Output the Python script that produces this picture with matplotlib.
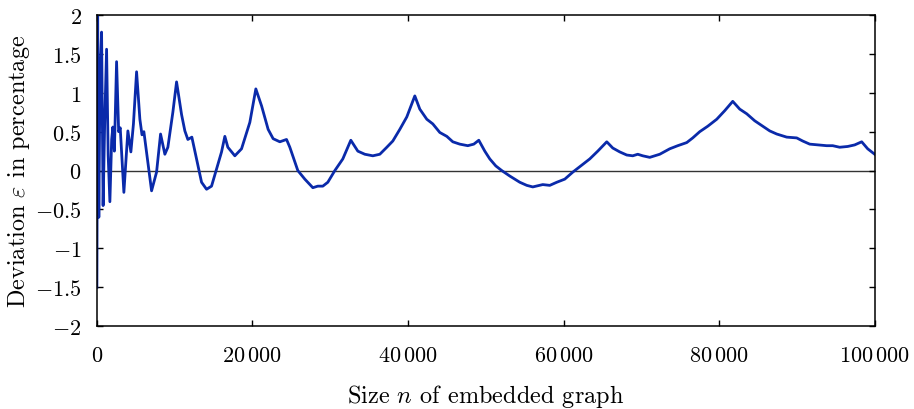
import matplotlib
matplotlib.use("Agg")
import matplotlib.pyplot as plt
import numpy as np

plt.rcParams['font.family'] = ['cmr10', 'DejaVu Serif']
plt.rcParams['mathtext.fontset'] = 'cm'
plt.rcParams['axes.unicode_minus'] = False

# courbe : taille n du graphe, deviation en %
n_vals = [0, 100, 250, 400, 604, 800, 1000, 1247, 1450, 1671, 1900, 2057,
          2250, 2532, 2800, 3000, 3470, 3985, 4370, 4700, 5103, 5527,
          5800, 6041, 6555, 7031, 7673, 8187, 8740, 9126, 9768, 10244, 10887,
          11311, 11697, 12210, 12815, 13457, 14100, 14742, 15385, 16027,
          16452, 16837, 17737, 18598, 19665, 20436, 21178, 22017, 22660,
          23521, 24382, 24806, 25835, 26735, 27763, 28405, 29049, 29690,
          30591, 31618, 32648, 33548, 34448, 35476, 36375, 37275, 38046,
          38946, 39845, 40874, 41517, 42416, 43188, 44087, 44987, 45758,
          46658, 47686, 48458, 49100, 49871, 50514, 51285, 52057, 53085,
          54370, 55270, 56041, 57326, 58226, 59126, 60154, 61183, 62211,
          63368, 64396, 65553, 66324, 67224, 68124, 68895, 69538, 70180,
          71080, 72365, 73650, 74679, 75835, 76606, 77506, 78534, 79692,
          80720, 81748, 82648, 83548, 84576, 85604, 86504, 87404, 88689,
          89974, 90745, 91645, 92673, 93830, 94601, 95501, 96529, 97429,
          98329, 99100, 100000]
dev_vals = [-1.5, 2.0, -0.6, 1.2, 1.78, -0.45, 0.6, 1.56, 0.2, -0.40, 0.4, 0.56,
            0.25, 1.40, 0.5, 0.55, -0.28, 0.51, 0.24, 0.6, 1.27, 0.66,
            0.46, 0.50, 0.10, -0.26, -0.02, 0.47, 0.21, 0.30, 0.75, 1.14, 0.72,
            0.51, 0.40, 0.43, 0.15, -0.15, -0.24, -0.20, 0.02, 0.24,
            0.44, 0.30, 0.19, 0.28, 0.62, 1.05, 0.83, 0.53, 0.41,
            0.37, 0.40, 0.30, 0.0, -0.11, -0.22, -0.20, -0.20, -0.15,
            0.0, 0.15, 0.39, 0.25, 0.21, 0.19, 0.21, 0.30, 0.38,
            0.53, 0.69, 0.96, 0.79, 0.66, 0.60, 0.49, 0.44, 0.37,
            0.34, 0.32, 0.34, 0.39, 0.25, 0.15, 0.06, 0.0, -0.07,
            -0.15, -0.19, -0.21, -0.18, -0.19, -0.15, -0.11, -0.02, 0.06,
            0.15, 0.25, 0.37, 0.29, 0.24, 0.20, 0.19, 0.21, 0.19,
            0.17, 0.21, 0.28, 0.32, 0.36, 0.42, 0.50, 0.57, 0.66,
            0.77, 0.89, 0.79, 0.73, 0.64, 0.57, 0.51, 0.47, 0.43,
            0.42, 0.38, 0.34, 0.33, 0.32, 0.32, 0.30, 0.31, 0.33,
            0.37, 0.28, 0.21]

x_ticks = [0, 20000, 40000, 60000, 80000, 100000]
x_labels = [r"$0$", r"$20\,000$", r"$40\,000$", r"$60\,000$", r"$80\,000$", r"$100\,000$"]
y_ticks = [-2, -1.5, -1, -0.5, 0, 0.5, 1, 1.5, 2]
y_labels = [r"$-2$", r"$-1.5$", r"$-1$", r"$-0.5$", r"$0$", r"$0.5$", r"$1$", r"$1.5$", r"$2$"]

fig = plt.figure(figsize=(9.14, 4.10), dpi=100)
ax = fig.add_axes([0.106, 0.202, 0.851, 0.759])

ax.axhline(0, color='#333333', lw=1.0, zorder=1)
ax.plot(n_vals, dev_vals, color='#0A2AAA', lw=2.0, zorder=2)

ax.set_xlim(0, 100000)
ax.set_ylim(-2, 2)
ax.set_xticks(x_ticks)
ax.set_xticklabels(x_labels)
ax.set_yticks(y_ticks)
ax.set_yticklabels(y_labels)
ax.tick_params(direction='in', length=4.5, width=1.0, top=True, right=True,
               labelsize=16)
ax.tick_params(axis='x', pad=14)
ax.tick_params(axis='y', pad=11)
for s in ax.spines.values():
    s.set_linewidth(1.1)

ax.set_xlabel(r"Size $n$ of embedded graph", fontsize=17.5, labelpad=12)
ax.set_ylabel(r"Deviation $\varepsilon$ in percentage", fontsize=17.5, labelpad=2)

fig.savefig("out.png", dpi=100)
